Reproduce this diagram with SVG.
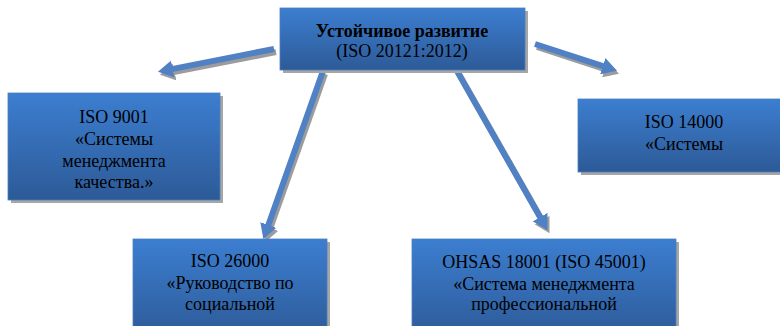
<svg xmlns="http://www.w3.org/2000/svg" width="780" height="326" viewBox="0 0 780 326">
<style>
.box{fill:url(#g);stroke:#4a7fc0;stroke-width:0.8}
.sh{fill:#a6a6a6}
.t{font-family:"Liberation Serif","Times New Roman",serif;font-size:18px;fill:#000;text-anchor:middle}
.b{font-weight:bold}
.arr{stroke:#4f81c4;stroke-width:6;fill:none;marker-end:url(#ah)}
.arrs{stroke:#9c9c9c;stroke-width:6;fill:none;marker-end:url(#ahs)}
</style>
<defs>
<linearGradient id="g" x1="0" y1="0" x2="0" y2="1">
<stop offset="0" stop-color="#3c7ed0"/>
<stop offset="1" stop-color="#2d5a97"/>
</linearGradient>
<marker id="ah" markerUnits="userSpaceOnUse" markerWidth="15" markerHeight="17" viewBox="0 0 15 17" refX="1" refY="8.5" orient="auto">
<path d="M0,0 L15,8.5 L0,17 Z" fill="#4f81c4"/>
</marker>
<marker id="ahs" markerUnits="userSpaceOnUse" markerWidth="15" markerHeight="17" viewBox="0 0 15 17" refX="1" refY="8.5" orient="auto">
<path d="M0,0 L15,8.5 L0,17 Z" fill="#9c9c9c"/>
</marker>
</defs>
<rect width="780" height="326" fill="#fff"/>
<g id="connectors">
<g transform="translate(2,3)">
<line class="arrs" x1="274" y1="49" x2="171.7" y2="69.1"/>
<line class="arrs" x1="535" y1="44" x2="603.7" y2="66.4"/>
<line class="arrs" x1="323" y1="71" x2="268" y2="225.9"/>
<line class="arrs" x1="457" y1="71" x2="540.6" y2="218"/>
</g>
<line class="arr" x1="274" y1="49" x2="171.7" y2="69.1"/>
<line class="arr" x1="535" y1="44" x2="603.7" y2="66.4"/>
<line class="arr" x1="323" y1="71" x2="268" y2="225.9"/>
<line class="arr" x1="457" y1="71" x2="540.6" y2="218"/>
</g>
<g id="top">
<rect class="sh" x="283" y="11" width="245" height="62"/>
<rect class="box" x="280" y="8" width="245" height="62"/>
<text class="t b" x="402" y="37">Устойчивое развитие</text>
<text class="t" x="402" y="57">(ISO 20121:2012)</text>
</g>
<g id="iso9001">
<rect class="sh" x="11" y="96" width="212" height="107"/>
<rect class="box" x="8" y="93" width="212" height="107"/>
<text class="t" x="114" y="123">ISO 9001</text>
<text class="t" x="114" y="145">«Системы</text>
<text class="t" x="114" y="167">менеджмента</text>
<text class="t" x="114" y="188">качества.»</text>
</g>
<g id="iso14000">
<rect class="sh" x="581" y="102" width="212" height="73"/>
<rect class="box" x="578" y="99" width="212" height="73"/>
<text class="t" x="684" y="128">ISO 14000</text>
<text class="t" x="684" y="150">«Системы</text>
</g>
<g id="iso26000">
<rect class="sh" x="136" y="242" width="194" height="100"/>
<rect class="box" x="133" y="239" width="194" height="100"/>
<text class="t" x="230" y="267">ISO 26000</text>
<text class="t" x="230" y="289">«Руководство по</text>
<text class="t" x="230" y="310">социальной</text>
</g>
<g id="ohsas">
<rect class="sh" x="415" y="242" width="264" height="100"/>
<rect class="box" x="412" y="239" width="264" height="100"/>
<text class="t" x="544" y="268">OHSAS 18001 (ISO 45001)</text>
<text class="t" x="544" y="290">«Система менеджмента</text>
<text class="t" x="544" y="310">профессиональной</text>
</g>
</svg>
